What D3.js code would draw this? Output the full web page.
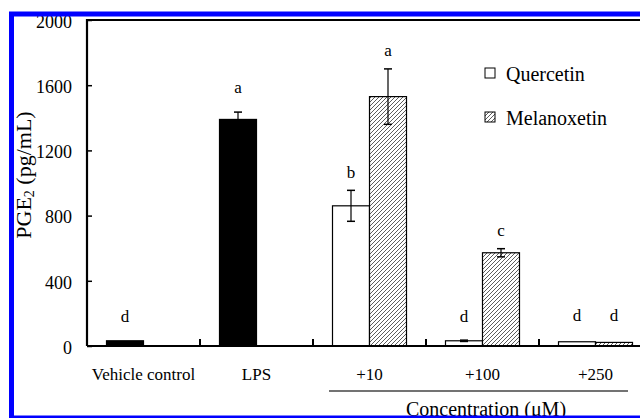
<!DOCTYPE html>
<html>
<head>
<meta charset="utf-8">
<script src="https://cdn.jsdelivr.net/npm/d3@7"></script>
<style>
  body { margin: 0; background: #fff; }
  text { font-family: "Liberation Serif", "Times New Roman", serif; fill: #000; }
</style>
</head>
<body>
<svg id="chart" width="640" height="418"></svg>
<script>
// groups along the x axis
var groups = ["Vehicle control", "LPS", "+10", "+100", "+250"];
var yTicks = [0, 400, 800, 1200, 1600, 2000];

// controls (first slot of the first two groups)
var controlMean = [32, 1390];
var controlErr = [0, 45];
var controlLetter = ["d", "a"];
var controlLetterAt = [147, 1552];

// quercetin / melanoxetin, one value per dose
var quercetinMean = [860, 32, 26];
var quercetinErr = [95, 4, 0];
var quercetinLetter = ["b", "d", "d"];
var quercetinLetterAt = [1031, 147, 153];

var melanoxetinMean = [1530, 572, 22];
var melanoxetinErr = [170, 25, 0];
var melanoxetinLetter = ["a", "c", "d"];
var melanoxetinLetterAt = [1779, 675, 153];

var legendNames = ["Quercetin", "Melanoxetin"];

function drawChart()
{
  var svg = d3.select("#chart");

  svg.append("rect").attr("width", 640).attr("height", 418).style("fill", "#fff");

  var defs = svg.append("defs");
  var pat = defs.append("pattern")
      .attr("id", "hatch")
      .attr("patternUnits", "userSpaceOnUse")
      .attr("width", 4)
      .attr("height", 4);
  pat.append("rect").attr("width", 4).attr("height", 4).style("fill", "#fff");
  pat.append("path")
      .attr("d", "M-1,1 l2,-2 M0,4 l4,-4 M3,5 l2,-2")
      .style("stroke", "#333")
      .style("stroke-width", "0.8px");

  var x = d3.scaleBand().domain(groups).range([87, 652]);
  var slot = d3.scaleBand().domain([0, 1]).range([0, x.bandwidth()]).paddingOuter(0.527);
  var y = d3.scaleLinear().domain([0, 2000]).range([346, 20]);

  // rows: every bar with its group, slot and fill
  var rows = [];
  controlMean.forEach(function(v, i) {
    rows.push({g: groups[i], s: 0, v: v, e: controlErr[i], l: controlLetter[i], la: controlLetterAt[i], fill: "#000"});
  });
  quercetinMean.forEach(function(v, i) {
    rows.push({g: groups[i + 2], s: 0, v: v, e: quercetinErr[i], l: quercetinLetter[i], la: quercetinLetterAt[i], fill: "#fff"});
  });
  melanoxetinMean.forEach(function(v, i) {
    rows.push({g: groups[i + 2], s: 1, v: v, e: melanoxetinErr[i], l: melanoxetinLetter[i], la: melanoxetinLetterAt[i], fill: "url(#hatch)"});
  });

  function cx(d) { return x(d.g) + slot(d.s) + slot.bandwidth() / 2; }

  svg.selectAll(".bar").data(rows).enter().append("rect")
      .attr("class", "bar")
      .attr("x", function(d) { return x(d.g) + slot(d.s); })
      .attr("y", function(d) { return y(d.v); })
      .attr("width", slot.bandwidth())
      .attr("height", function(d) { return y(0) - y(d.v); })
      .style("fill", function(d) { return d.fill; })
      .style("stroke", "#000")
      .style("stroke-width", "1.2px");

  // error bars
  var eb = svg.selectAll(".err").data(rows.filter(function(d) { return d.e > 0; })).enter().append("g");
  eb.append("line")
      .attr("x1", cx).attr("x2", cx)
      .attr("y1", function(d) { return y(d.v + d.e); })
      .attr("y2", function(d) { return y(Math.max(0, d.v - d.e)); })
      .style("stroke", "#000").style("stroke-width", "1.2px");
  eb.append("line")
      .attr("x1", function(d) { return cx(d) - 4; }).attr("x2", function(d) { return cx(d) + 4; })
      .attr("y1", function(d) { return y(d.v + d.e); })
      .attr("y2", function(d) { return y(d.v + d.e); })
      .style("stroke", "#000").style("stroke-width", "1.5px");
  eb.filter(function(d) { return d.v - d.e > 0; }).append("line")
      .attr("x1", function(d) { return cx(d) - 4; }).attr("x2", function(d) { return cx(d) + 4; })
      .attr("y1", function(d) { return y(d.v - d.e); })
      .attr("y2", function(d) { return y(d.v - d.e); })
      .style("stroke", "#000").style("stroke-width", "1.5px");

  // significance letters
  svg.selectAll(".sig").data(rows).enter().append("text")
      .attr("x", cx)
      .attr("y", function(d) { return y(d.la); })
      .attr("text-anchor", "middle")
      .style("font-size", "17px")
      .text(function(d) { return d.l; });

  // y axis
  var yAxis = d3.axisLeft(y).tickValues(yTicks).tickSize(-5).tickPadding(15).tickFormat(d3.format("d"));
  var ga = svg.append("g").attr("transform", "translate(87,0)").call(yAxis);
  ga.select(".domain").remove();
  ga.selectAll(".tick line").style("stroke", "#000").style("stroke-width", "1.5px");
  ga.selectAll(".tick text").style("font-size", "18px").style("font-family", "Liberation Serif").attr("dy", "0.4em");

  // x axis: ticks at group boundaries
  var bounds = groups.slice(1).map(function(g) { return x(g); });
  svg.selectAll(".xt").data(bounds).enter().append("line")
      .attr("x1", function(d) { return d; }).attr("x2", function(d) { return d; })
      .attr("y1", 346).attr("y2", 339)
      .style("stroke", "#000").style("stroke-width", "2px");

  svg.selectAll(".xl").data(groups).enter().append("text")
      .attr("x", function(d) { return x(d) + x.bandwidth() / 2; })
      .attr("y", 380)
      .attr("text-anchor", "middle")
      .style("font-size", "17px")
      .text(function(d) { return d; });

  // frame lines
  svg.append("path")
      .attr("d", "M87,346 L87,20 L660,20 M87,346 L660,346")
      .style("fill", "none").style("stroke", "#000").style("stroke-width", "2.2px");

  // concentration bracket
  svg.append("line")
      .attr("x1", x("+10") + 16).attr("x2", x("+250") + x.bandwidth() - 24)
      .attr("y1", 391).attr("y2", 391)
      .style("stroke", "#444").style("stroke-width", "1.5px");
  svg.append("text")
      .attr("x", 486).attr("y", 416)
      .attr("text-anchor", "middle")
      .style("font-size", "20px")
      .text("Concentration (\u03bcM)");

  // y label
  var yl = svg.append("text")
      .attr("transform", "translate(31,175) rotate(-90)")
      .attr("text-anchor", "middle")
      .style("font-size", "22px");
  yl.append("tspan").text("PGE");
  yl.append("tspan").attr("dy", 3).style("font-size", "14px").text("2");
  yl.append("tspan").attr("dy", -3).text(" (pg/mL)");

  // legend
  var lg = svg.selectAll(".lg").data(legendNames).enter().append("g")
      .attr("transform", function(d, i) { return "translate(485," + (68 + i * 44) + ")"; });
  lg.append("rect")
      .attr("width", 10).attr("height", 10)
      .style("fill", function(d, i) { return i ? "url(#hatch)" : "#fff"; })
      .style("stroke", "#000").style("stroke-width", "1px");
  lg.append("text")
      .attr("x", 21).attr("y", 13)
      .style("font-size", "20px")
      .text(function(d) { return d; });

  // blue frame drawn last, it overlaps the edges
  svg.append("rect")
      .attr("x", 11.5).attr("y", 14)
      .attr("width", 700).attr("height", 404)
      .style("fill", "none").style("stroke", "#0000ff").style("stroke-width", "5px");
}

drawChart();
</script>
</body>
</html>
